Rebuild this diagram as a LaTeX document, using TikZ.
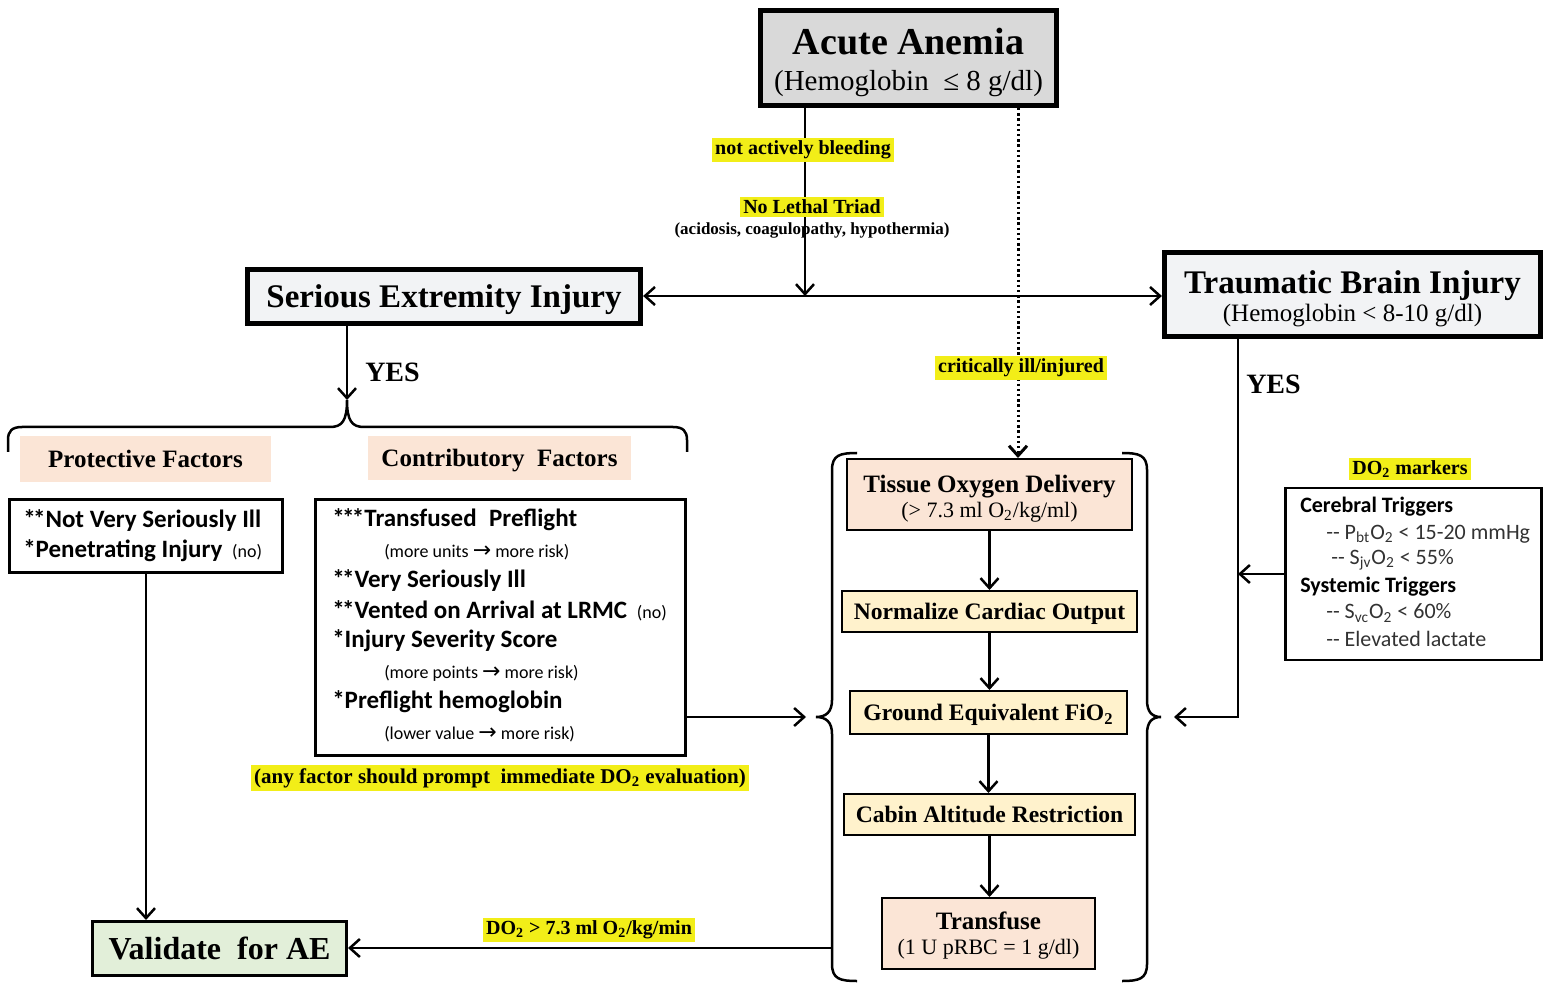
\documentclass[tikz,border=0pt]{standalone}
\usepackage{fontspec}
\setmainfont{Liberation Serif}
\newfontfamily\calfont{Carlito}
\newfontfamily\djv{DejaVu Sans}
\usetikzlibrary{arrows.meta}
\definecolor{hlc}{RGB}{242,238,24}
\definecolor{salmon}{RGB}{251,229,214}
\definecolor{cream}{RGB}{255,242,204}
\definecolor{grayfill}{RGB}{217,217,217}
\definecolor{lightfill}{RGB}{242,243,245}
\definecolor{greenfill}{RGB}{226,239,217}
\definecolor{dgray}{RGB}{50,50,50}
\newcommand{\fs}[1]{\fontsize{#1}{#1}\selectfont}
\newcommand{\rarr}{{\djv\fontsize{11}{11}\selectfont →}}
\newcommand{\sk}{\kern-1.3pt}
\begin{document}
\begin{tikzpicture}[x=0.5pt,y=-0.5pt,line width=1.25pt,
  lbl/.style={inner sep=0pt},
  hlt/.style={fill=hlc,inner sep=1.5pt,font=\bfseries\fs{10}},
  thickbox/.style={draw,line width=2.6pt},
  midbox/.style={draw,line width=1.5pt},
  thinbox/.style={draw,line width=1pt},
  arr/.style={-{Straight Barb[length=5pt,width=9pt]}},
  darr/.style={{Straight Barb[length=5pt,width=9pt]}-{Straight Barb[length=5pt,width=9pt]}},
  dotl/.style={line width=1.5pt,dash pattern=on 1.2pt off 1.4pt},
  cb/.style={lbl,anchor=west,font=\calfont\bfseries\fs{12.5}},
  cs/.style={lbl,anchor=west,font=\calfont\fs{9}},
  dmb/.style={lbl,anchor=west,font=\calfont\bfseries\fs{11}},
  dmr/.style={lbl,anchor=west,font=\calfont\fs{11},text=dgray},
  cbold/.style={font=\bfseries\fs{11.8},text depth=0pt}
]
\useasboundingbox (0,0) rectangle (1551,983);

% ---------- top boxes ----------
\node[thickbox,fill=grayfill,minimum width=148pt,minimum height=47.5pt] (aa) at (908.5,58) {};
\node[lbl,font=\bfseries\fs{19}] (aat) at (908.5,42) {Acute Anemia};
\node[lbl,font=\fs{14.5}] (aas) at (908.5,84) {(Hemoglobin\enspace ≤ 8 g/dl)};

\node[thickbox,fill=lightfill,minimum width=196.5pt,minimum height=27pt,text depth=0pt,font=\bfseries\fs{16.5}] (sei) at (444,296.5) {Serious Extremity Injury};

\node[thickbox,fill=lightfill,minimum width=188pt,minimum height=42pt] (tbi) at (1352.5,294.5) {};
\node[lbl,font=\bfseries\fs{16.5},text depth=0pt] (tbit) at (1352.5,282) {Traumatic Brain Injury};
\node[lbl,font=\fs{12.5}] (tbis) at (1352.5,316) {(Hemoglobin < 8-10 g/dl)};

% ---------- centre column ----------
\node[thinbox,fill=salmon,minimum width=142.5pt,minimum height=35.5pt] (tod) at (989.5,494.5) {};
\node[lbl,font=\bfseries\fs{12.5},text depth=0pt] (todt) at (989.5,484) {Tissue Oxygen Delivery};
\node[lbl,font=\fs{11}] (tods) at (989.5,512) {(> 7.3 ml O\textsubscript{2}/kg/ml)};
\node[thinbox,fill=cream,minimum width=147.5pt,minimum height=20.5pt,cbold] (nco) at (989.5,611.5) {Normalize Cardiac Output};
\node[thinbox,fill=cream,minimum width=138.5pt,minimum height=21.5pt,cbold] (gef) at (988.5,712.5) {Ground Equivalent FiO\textsubscript{2}};
\node[thinbox,fill=cream,minimum width=145.5pt,minimum height=20.5pt,cbold] (car) at (989.5,814.5) {Cabin Altitude Restriction};
\node[thinbox,fill=salmon,minimum width=106.5pt,minimum height=35.5pt] (tr) at (988.5,933.5) {};
\node[lbl,font=\bfseries\fs{12.5},text depth=0pt] (trt) at (988.5,921) {Transfuse};
\node[lbl,font=\fs{11}] (trs) at (988.5,949) {(1 U pRBC = 1 g/dl)};

\draw[arr] (tod.south) -- (tod.south |- nco.north);
\draw[arr] (nco.south) -- (nco.south |- gef.north);
\draw[arr] (gef.south) -- (gef.south |- car.north);
\draw[arr] (car.south) -- (car.south |- tr.north);

% centre braces
\draw (857,453) .. controls (840,453) and (832,455) .. (832,470) -- (832,700)
  .. controls (832,712) and (826,717) .. (816,717)
  .. controls (826,717) and (832,722) .. (832,734) -- (832,964)
  .. controls (832,979) and (840,981) .. (857,981);
\draw (1122,453) .. controls (1139,453) and (1147,455) .. (1147,470) -- (1147,700)
  .. controls (1147,712) and (1152,717) .. (1161,717)
  .. controls (1152,717) and (1147,722) .. (1147,734) -- (1147,964)
  .. controls (1147,979) and (1139,981) .. (1122,981);

% ---------- left side ----------
\node[lbl,fill=salmon,minimum width=125.5pt,minimum height=23pt,text depth=0pt,font=\bfseries\fs{12.5}] (pfl) at (145.5,459) {Protective Factors};
\node[lbl,fill=salmon,minimum width=131.5pt,minimum height=22pt,text depth=0pt,font=\bfseries\fs{12.5}] (cfl) at (499.5,458) {Contributory\enspace Factors};

\node[midbox,minimum width=136.5pt,minimum height=36.5pt] (pf) at (146,536) {};
\node[cb] (pf1) at (22,521) {*\sk*Not Very Seriously Ill};
\node[cb] (pf2) at (22,551) {*Penetrating Injury {\mdseries\fs{9} (no)}};

\node[midbox,minimum width=185pt,minimum height=128pt] (cf) at (500.5,627.5) {};
\node[cb] (cf1) at (331,520) {*\sk*\sk*Transfused\enspace Preflight};
\node[cs] (cf2) at (383,552) {(more units \rarr\ more risk)};
\node[cb] (cf3) at (331,581) {*\sk*Very Seriously Ill};
\node[cb] (cf4) at (331,611) {*\sk*Vented on Arrival at LRMC {\mdseries\fs{9} (no)}};
\node[cb] (cf5) at (331,641) {*Injury Severity Score};
\node[cs] (cf6) at (383,673) {(more points \rarr\ more risk)};
\node[cb] (cf7) at (331,702) {*Preflight hemoglobin};
\node[cs] (cf8) at (383,734) {(lower value \rarr\ more risk)};

\node[midbox,fill=greenfill,minimum width=127pt,minimum height=27pt,text depth=0pt,font=\bfseries\fs{16}] (va) at (219.5,948.5) {Validate\enspace for AE};

% top brace over factors
\coordinate (tbt) at (347,400);
\draw (8,452) -- (8,440) .. controls (8,431) and (12,427) .. (22,427) -- (330,427)
  .. controls (342,427) and (347,421) .. (tbt)
  .. controls (347,421) and (352,427) .. (364,427) -- (673,427)
  .. controls (683,427) and (687,431) .. (687,440) -- (687,452);
\draw[arr] (sei.south -| tbt) -- (tbt);
\node[lbl,anchor=west,font=\bfseries\fs{14}] (yes1) at (364,372) {YES};

% ---------- right side ----------
\node[thinbox,line width=1.3pt,minimum width=128pt,minimum height=86pt] (dm) at (1413.5,574) {};
\node[dmb] (dm1) at (1299,507) {Cerebral Triggers};
\node[dmr] (dm2) at (1325,534) {-{}- P\textsubscript{bt}O\textsubscript{2} < 15-20 mmHg};
\node[dmr] (dm3) at (1330,560) {-{}- S\textsubscript{jv}O\textsubscript{2} < 55\%};
\node[dmb] (dm4) at (1299,587) {Systemic Triggers};
\node[dmr] (dm5) at (1325,613) {-{}- S\textsubscript{vc}O\textsubscript{2} < 60\%};
\node[dmr] (dm6) at (1325,639) {-{}- Elevated lactate};

\coordinate (tbx) at (1238,717);
\coordinate (rbt) at (1174,717);
\draw[arr] (tbi.south -| tbx) -- (tbx) -- (rbt);
\draw[arr] (dm.west) -- (dm.west -| tbx);
\node[lbl,anchor=west,font=\bfseries\fs{14}] (yes2) at (1245,384) {YES};

% ---------- main connectors ----------
\coordinate (jn) at (805,296);
\draw[arr] (aa.south -| jn) -- (jn);
\draw[darr] (sei.east |- jn) -- (tbi.west |- jn);
\coordinate (dt) at (1018,300);
\draw[dotl,arr] (aa.south -| dt) -- (tod.north -| dt);

\coordinate (lbt) at (806,717);
\draw[arr] (cf.east |- lbt) -- (lbt);
\coordinate (lbb) at (832,948);
\draw[arr] (lbb) -- (va.east |- lbb);
\draw[arr] (pf.south) -- (pf.south |- va.north);

% ---------- highlighted labels ----------
\node[hlt] (nab) at (803,150) {not actively bleeding};
\node[hlt] (nlt) at (812,207) {No Lethal Triad};
\node[lbl,font=\bfseries\fs{8.5}] (acid) at (812,230) {(acidosis, coagulopathy, hypothermia)};
\node[hlt] (cii) at (1021,368) {critically ill/injured};
\node[hlt] (dmk) at (1410,469) {DO\textsubscript{2} markers};
\node[hlt,font=\bfseries\fs{10.5}] (anyf) at (500,778) {(any factor should prompt\enspace immediate DO\textsubscript{2} evaluation)};
\node[hlt] (dov) at (589,930) {DO\textsubscript{2} > 7.3 ml O\textsubscript{2}/kg/min};
\end{tikzpicture}
\end{document}
